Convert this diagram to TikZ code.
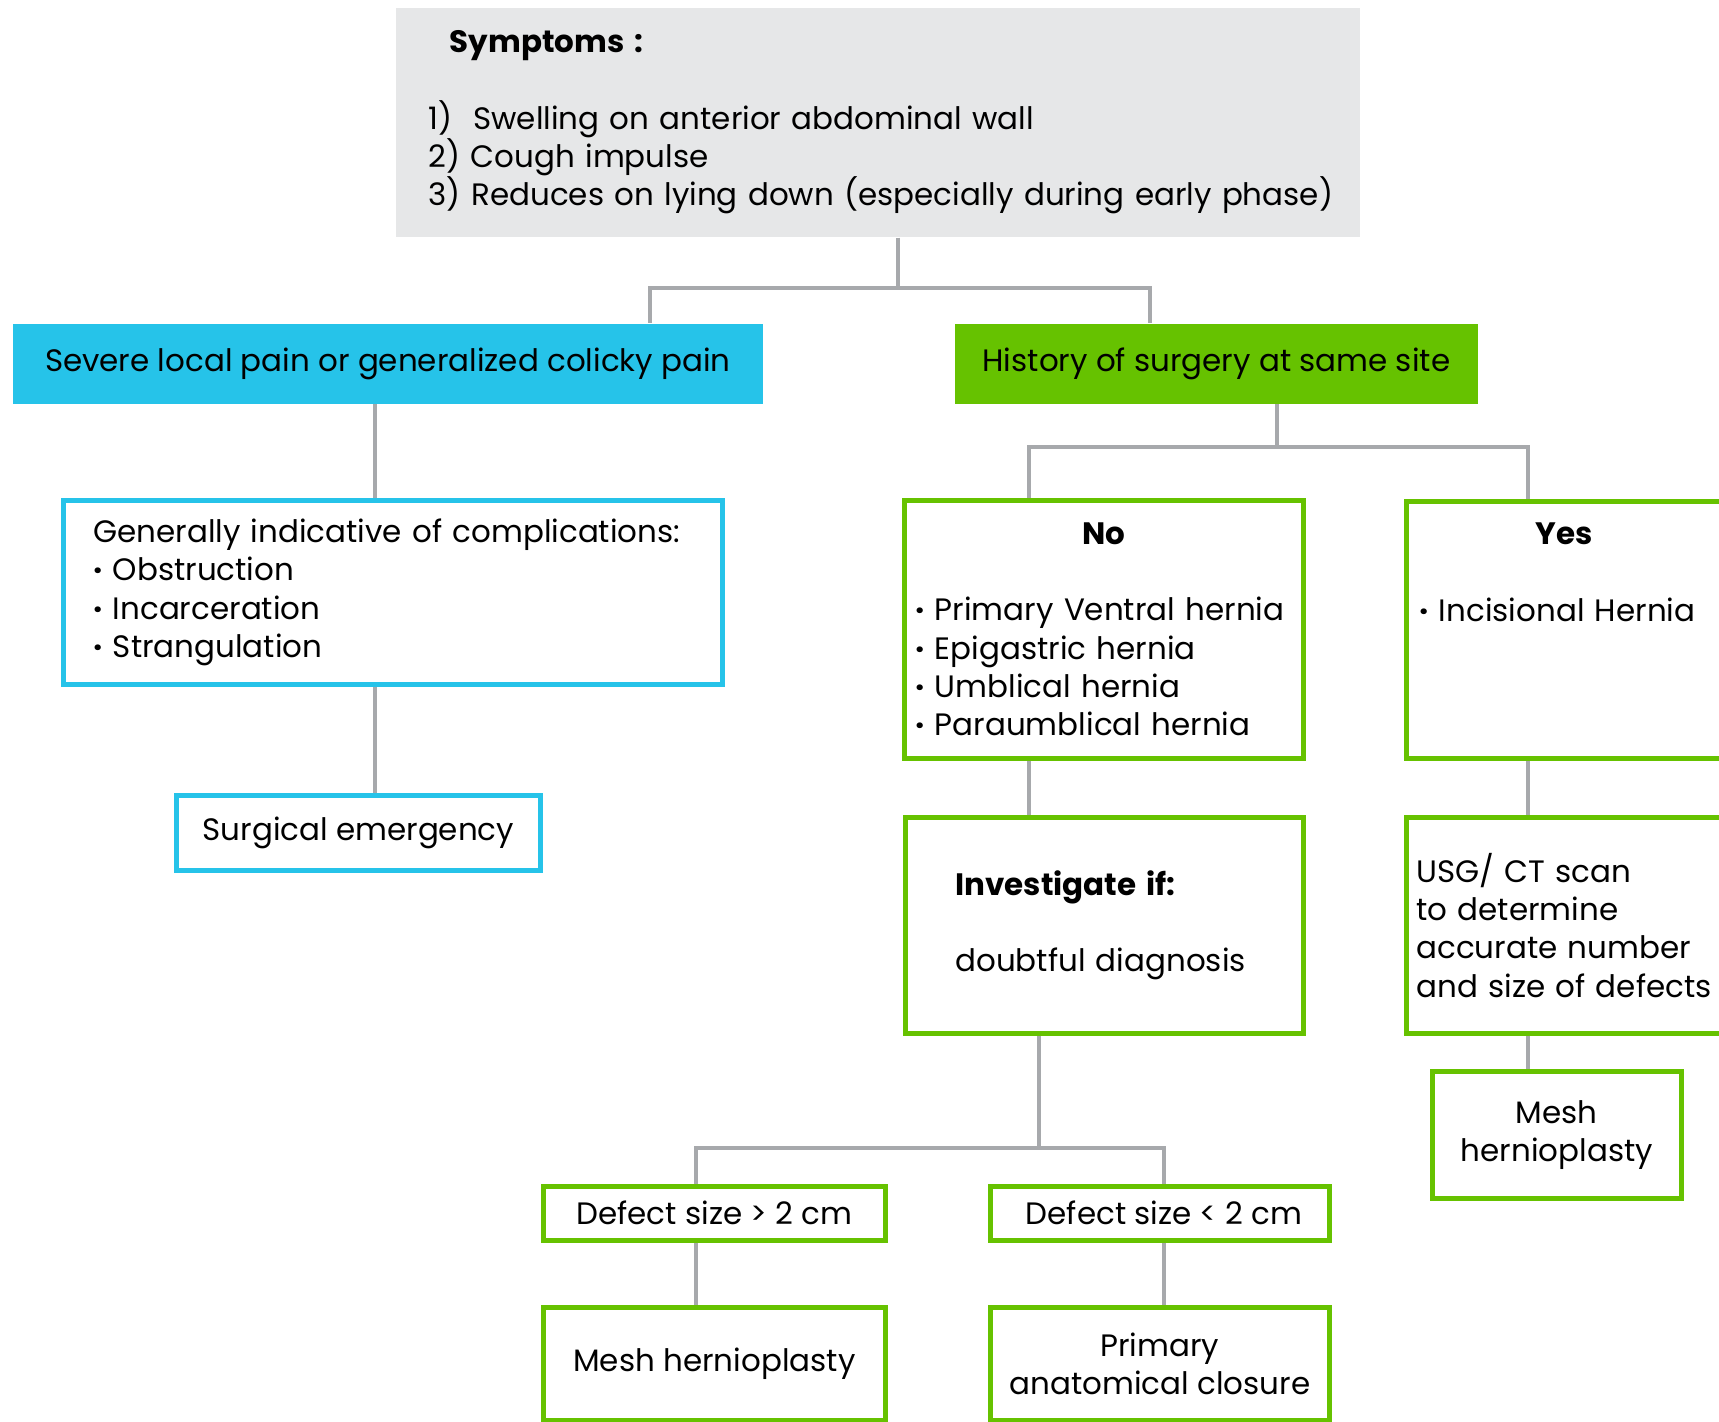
\documentclass[tikz,border=0pt]{standalone}
\usepackage{fontspec}
\setmainfont{Poppins}
\definecolor{chartblue}{RGB}{38,195,233}
\definecolor{chartgreen}{RGB}{102,194,0}
\definecolor{chartgrey}{RGB}{230,231,232}
\definecolor{linegrey}{RGB}{167,169,172}
\tikzstyle{conn}=[draw=linegrey,line width=1.4pt]
\tikzstyle{bluebox}=[draw=chartblue,line width=1.3pt,fill=white,anchor=north west]
\tikzstyle{greenbox}=[draw=chartgreen,line width=1.3pt,fill=white,anchor=north west]

\begin{document}
\begin{tikzpicture}[x=0.01cm,y=-0.01cm,font=\fontsize{8.8}{10.9}\selectfont]
  \useasboundingbox (0,0) rectangle (1719,1422);

  \node[fill=chartgrey,anchor=north west,minimum width=9.64cm,minimum height=2.29cm,
        inner xsep=0.33cm,text width=8.98cm,align=left] (top) at (395,7)
    {\hspace{0.21cm}\textbf{Symptoms :}\\[10.9pt]
     \mbox{1)~~Swelling on anterior abdominal wall}\\
     \mbox{2) Cough impulse}\\
     \mbox{3) Reduces on lying down (especially during early phase)}};

  \node[fill=chartblue,anchor=north west,minimum width=7.50cm,minimum height=0.80cm] (pain) at (12,323)
    {Severe local pain or generalized colicky pain};
  \node[fill=chartgreen,anchor=north west,minimum width=5.23cm,minimum height=0.80cm] (hist) at (954,323)
    {History of surgery at same site};

  % left branch
  \node[bluebox,minimum width=6.59cm,minimum height=1.84cm,inner xsep=0.30cm,text width=5.99cm,align=left] (comp) at (61,498)
    {\mbox{Generally indicative of complications:}\\
     \textbf{·}~Obstruction\\
     \textbf{·}~Incarceration\\
     \textbf{·}~Strangulation};
  \node[bluebox,minimum width=3.64cm,minimum height=0.75cm] (emerg) at (174,793) {Surgical emergency};

  % right branch
  \node[greenbox,minimum width=3.99cm,minimum height=2.58cm,inner xsep=0.11cm,text width=3.77cm,align=left] (no) at (902,498)
    {\mbox{}\hfill\textbf{No}\hfill\mbox{}\\[10.9pt]
     \mbox{\textbf{·}~Primary Ventral hernia}\\
     \mbox{\textbf{·}~Epigastric hernia}\\
     \mbox{\textbf{·}~Umblical hernia}\\
     \mbox{\textbf{·}~Paraumblical hernia}};
  \node[greenbox,minimum width=3.16cm,minimum height=2.57cm,inner xsep=0.13cm,text width=2.90cm,align=left] (yes) at (1404,499)
    {\mbox{}\hfill\textbf{Yes}\hfill\mbox{}\\[10.9pt]
     \mbox{\textbf{·}~Incisional Hernia}\\ \mbox{}\\ \mbox{}\\ \mbox{}};

  \node[greenbox,minimum width=3.98cm,minimum height=2.16cm,inner xsep=0.50cm,text width=2.98cm,align=left] (inv) at (903,815)
    {\mbox{\textbf{Investigate if:}}\\[10.9pt]
     \mbox{doubtful diagnosis}};
  \node[greenbox,minimum width=3.16cm,minimum height=2.16cm,inner xsep=0.10cm,text width=2.96cm,align=left] (usg) at (1404,815)
    {\mbox{USG/ CT scan}\\
     \mbox{to determine}\\
     \mbox{accurate number}\\
     \mbox{and size of defects}};
  \node[greenbox,minimum width=2.49cm,minimum height=1.27cm,align=center] (meshr) at (1430,1069)
    {Mesh\\hernioplasty};

  \node[greenbox,minimum width=3.42cm,minimum height=0.54cm] (big) at (541,1184) {Defect size > 2 cm};
  \node[greenbox,minimum width=3.39cm,minimum height=0.54cm] (small) at (988,1184) {\hspace{0.08cm}Defect size < 2 cm};
  \node[greenbox,minimum width=3.42cm,minimum height=1.13cm] (meshb) at (541,1305) {Mesh hernioplasty};
  \node[greenbox,minimum width=3.39cm,minimum height=1.13cm,align=center] (prim) at (988,1305)
    {Primary\\anatomical closure};

  % connectors
  \coordinate (topjoin) at (898,288);
  \coordinate (histjoin) at (1277,447);
  \coordinate (invjoin) at (1039,1148);
  \draw[conn] (top.south -| topjoin) -- (topjoin);
  \draw[conn] (pain.north -| 650,0) |- (topjoin) -| (hist.north -| 1150,0);
  \draw[conn] (pain.south -| 375,0) -- (comp.north -| 375,0);
  \draw[conn] (comp.south -| 375,0) -- (emerg.north -| 375,0);
  \draw[conn] (hist.south -| histjoin) -- (histjoin);
  \draw[conn] (no.north -| 1029,0) |- (histjoin) -| (yes.north -| 1528,0);
  \draw[conn] (no.south -| 1029,0) -- (inv.north -| 1029,0);
  \draw[conn] (yes.south -| 1528,0) -- (usg.north -| 1528,0);
  \draw[conn] (usg.south -| 1528,0) -- (meshr.north -| 1528,0);
  \draw[conn] (inv.south -| invjoin) -- (invjoin);
  \draw[conn] (big.north -| 696,0) |- (invjoin) -| (small.north -| 1164,0);
  \draw[conn] (big.south -| 696,0) -- (meshb.north -| 696,0);
  \draw[conn] (small.south -| 1164,0) -- (prim.north -| 1164,0);
\end{tikzpicture}
\end{document}
